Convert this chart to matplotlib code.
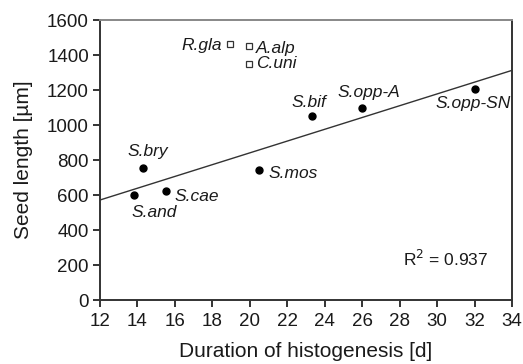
import numpy as np
import matplotlib
matplotlib.use("Agg")
import matplotlib.pyplot as plt

plt.rcParams["font.family"] = ["Liberation Sans", "DejaVu Sans"]

# filled points (used for the regression)
species = ["S.and", "S.bry", "S.cae", "S.mos", "S.bif", "S.opp-A", "S.opp-SN"]
duration = [13.8, 14.3, 15.5, 20.5, 23.3, 26.0, 32.0]
seed_len = [600, 752, 623, 743, 1051, 1095, 1204]

# open squares (outliers, not in the fit)
out_species = ["R.gla", "A.alp", "C.uni"]
out_duration = [18.95, 19.95, 19.95]
out_seed_len = [1461, 1451, 1347]

r2_text = "R$^2$ = 0.937"

# label offsets in pixels, alignment
lab_pos = {
    "S.and": (20, -17, "center"),
    "S.bry": (5, 17, "center"),
    "S.cae": (9, -6, "left"),
    "S.mos": (9, -4, "left"),
    "S.bif": (-3, 14, "center"),
    "S.opp-A": (7, 16, "center"),
    "S.opp-SN": (-1, -14, "center"),
    "R.gla": (-8, -1, "right"),
    "A.alp": (7, -2, "left"),
    "C.uni": (7, 1, "left"),
}

fig = plt.figure(figsize=(5.23, 3.64), dpi=100)
ax = fig.add_axes([0.1912, 0.1758, 0.7878, 0.7692])

# regression line
k, b = np.polyfit(duration, seed_len, 1)
xs = np.array([12, 34])
ax.plot(xs, k * xs + b, color="#333333", lw=1.0, zorder=1)

ax.plot(duration, seed_len, "o", color="black", ms=5, zorder=3)
ax.plot(out_duration, out_seed_len, "s", mfc="white", mec="#333333", mew=0.9, ms=4.5, zorder=3)

for name, x, y in zip(species + out_species, duration + out_duration, seed_len + out_seed_len):
    dx, dy, ha = lab_pos[name]
    ax.annotate(name, (x, y), xytext=(dx, dy), textcoords="offset pixels",
                ha=ha, va="center", fontsize=12.5, style="italic", color="#1a1a1a")

ax.text(0.84, 0.146, r2_text, transform=ax.transAxes, ha="center", va="center",
        fontsize=12.5, color="#1a1a1a")

ax.set_xlim(12, 34)
ax.set_ylim(0, 1600)
ax.set_xticks(range(12, 35, 2))
ax.set_yticks(range(0, 1601, 200))
ax.set_xlabel("Duration of histogenesis [d]", fontsize=15, color="#1a1a1a", labelpad=9)
ax.set_ylabel("Seed length [µm]", fontsize=15, color="#1a1a1a", labelpad=10)

for s in ax.spines.values():
    s.set_color("#333333")
    s.set_linewidth(1.4)
ax.spines["top"].set_color("#888888")
ax.tick_params(direction="out", length=5, width=1.4, color="#333333",
               labelsize=13.5, labelcolor="#1a1a1a")
ax.tick_params(axis="y", pad=3)
ax.tick_params(axis="x", pad=4)

fig.savefig("out.png", dpi=100)
